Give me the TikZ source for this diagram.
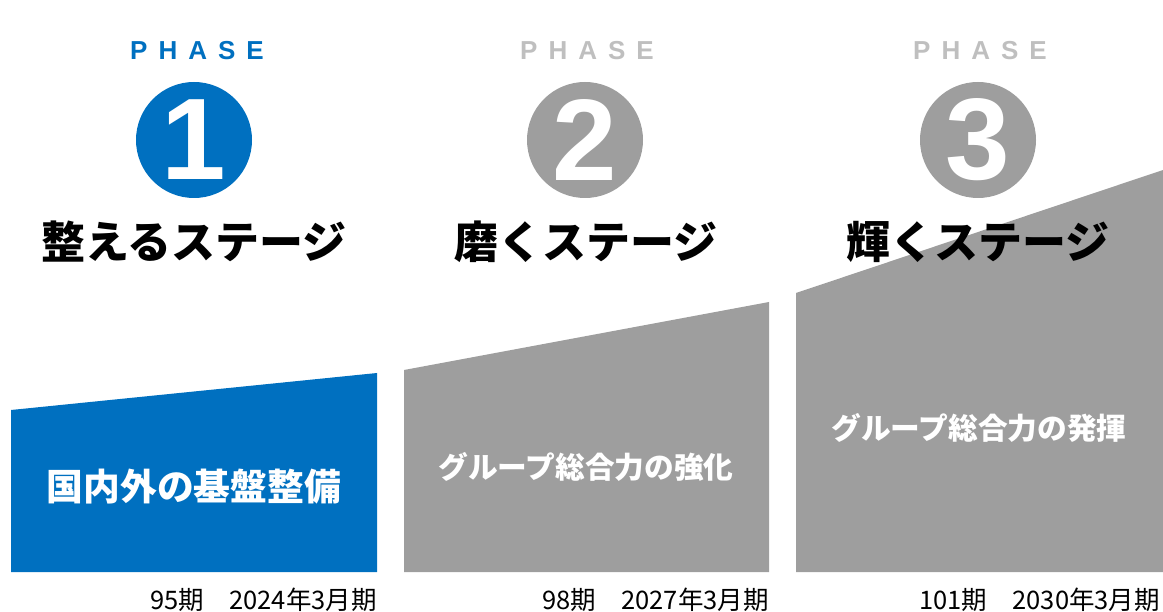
\documentclass[tikz,border=0pt]{standalone}
\usepackage{fontspec}
\setmainfont{Liberation Sans}
\newfontfamily\jp{Noto Sans CJK JP}
\newfontfamily\arialb{Liberation Sans Bold}
\definecolor{phaseblue}{HTML}{0070C0}
\definecolor{phasegray}{HTML}{9E9E9E}
\definecolor{phaselight}{HTML}{BFBFBF}
\newcommand{\phaseword}{P\hspace{11pt}H\hspace{11pt}A\hspace{11pt}S\hspace{11pt}E}
\tikzset{
  panel/.style={draw=none},
  phaselbl/.style={font=\arialb\fontsize{26}{26}\selectfont, inner sep=0pt},
  numcircle/.style={circle, minimum size=116pt, inner sep=0pt, font=\arialb\fontsize{116}{116}\selectfont, text=white},
  stagetitle/.style={font=\jp\bfseries\fontsize{44}{44}\selectfont, inner sep=0pt, text=black},
  paneltext/.style={font=\jp\bfseries\selectfont, inner sep=0pt, text=white},
  period/.style={font=\jp\fontsize{25.5}{26}\selectfont, inner sep=0pt, anchor=base east, text=black}
}
\begin{document}
\begin{tikzpicture}[x=1pt,y=-1pt]
\useasboundingbox (0,0) rectangle (1163,612);
% panels
\fill[phaseblue, panel] (11,410) -- (377,373) -- (377,572) -- (11,572) -- cycle;
\fill[phasegray, panel] (404,370) -- (769,302) -- (769,572) -- (404,572) -- cycle;
\fill[phasegray, panel] (796,293) -- (1163,170) -- (1163,572) -- (796,572) -- cycle;
% phase labels
\node[phaselbl, text=phaseblue] (p1) at (197,51) {\phaseword};
\node[phaselbl, text=phaselight] (p2) at (587,51) {\phaseword};
\node[phaselbl, text=phaselight] (p3) at (980,51) {\phaseword};
% circles
\node[numcircle, fill=phaseblue] (c1) at (194,140) {1};
\node[numcircle, fill=phasegray] (c2) at (585,140) {2};
\node[numcircle, fill=phasegray] (c3) at (978,140) {3};
% stage titles
\node[stagetitle] (t1) at (194,242) {整えるステージ};
\node[stagetitle] (t2) at (586,242) {磨くステージ};
\node[stagetitle] (t3) at (978,242) {輝くステージ};
% panel texts
\node[paneltext, font=\jp\bfseries\fontsize{36.8}{37}\selectfont] (b1) at (194,487) {国内外の基盤整備};
\node[paneltext, font=\jp\bfseries\fontsize{29.7}{30}\selectfont] (b2) at (586,467) {グループ総合力の強化};
\node[paneltext, font=\jp\bfseries\fontsize{29.7}{30}\selectfont] (b3) at (979,428) {グループ総合力の発揮};
% periods
\node[period] (d1) at (377,609) {95期　2024年3月期};
\node[period] (d2) at (769,609) {98期　2027年3月期};
\node[period] (d3) at (1160,609) {101期　2030年3月期};
\end{tikzpicture}
\end{document}
